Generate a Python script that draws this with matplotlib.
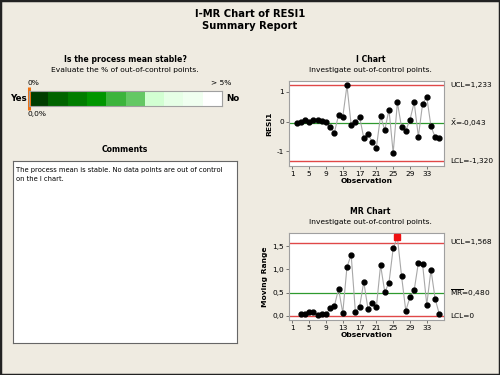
import numpy as np
import matplotlib.pyplot as plt
from matplotlib.patches import Rectangle

# data
obs_i = list(range(2, 37))
resi = [-0.03, 0.00, 0.05, -0.02, 0.05, 0.05, 0.03, 0.00, -0.17, -0.37,
        0.23, 0.16, 1.22, -0.11, 0.00, 0.17, -0.55, -0.41, -0.68, -0.87,
        0.20, -0.29, 0.41, -1.05, 0.65, -0.19, -0.30, 0.07, 0.65, -0.50,
        0.60, 0.83, -0.16, -0.52, -0.55]
obs_mr = list(range(3, 37))
mr = [0.03, 0.04, 0.08, 0.09, 0.01, 0.03, 0.03, 0.16, 0.21, 0.58,
      0.06, 1.05, 1.31, 0.09, 0.19, 0.73, 0.15, 0.28, 0.19, 1.09,
      0.51, 0.71, 1.45, 1.69, 0.85, 0.11, 0.40, 0.55, 1.14, 1.11,
      0.24, 0.99, 0.36, 0.03]
i_ucl, i_cl, i_lcl = 1.233, -0.043, -1.320
mr_ucl, mr_cl, mr_lcl = 1.568, 0.480, 0.0
xticks = [1, 5, 9, 13, 17, 21, 25, 29, 33]
pct_out = 0.0
seg_colors = ['#003d00', '#006400', '#007d00', '#009600', '#3cb43c',
              '#64c864', '#d2ffd2', '#e6ffe6', '#f0fff0', '#ffffff']

W, H = 500, 375
bg = '#efebe1'
red = '#e04848'
green = '#2e9a2e'
plt.rcParams['font.family'] = 'DejaVu Sans'


def fx(x):
    return x / W


def fy(y):
    return 1 - y / H


def rect(l, t, r, b):
    return [fx(l), fy(b), (r - l) / W, (b - t) / H]


fig = plt.figure(figsize=(5, 3.75), dpi=100, facecolor=bg)
fig.patches.append(Rectangle((0, 0), 1, 1, transform=fig.transFigure,
                             fill=False, edgecolor='#222222', linewidth=2.5))

fig.text(0.5, fy(14), 'I-MR Chart of RESI1', ha='center', va='center',
         fontsize=7.2, fontweight='bold')
fig.text(0.5, fy(26), 'Summary Report', ha='center', va='center',
         fontsize=7.2, fontweight='bold')

# stability gauge
fig.text(fx(125), fy(60), 'Is the process mean stable?', ha='center',
         va='center', fontsize=5.6, fontweight='bold')
fig.text(fx(125), fy(70), 'Evaluate the % of out-of-control points.',
         ha='center', va='center', fontsize=5.4)
gax = fig.add_axes(rect(29, 91, 222, 106))
gax.set_xlim(0, 5)
gax.set_ylim(0, 1)
seg_w = 5 / len(seg_colors)
gax.barh(0.5, [seg_w] * len(seg_colors), left=np.arange(len(seg_colors)) * seg_w,
         height=1, color=seg_colors, edgecolor='none')
for s in gax.spines.values():
    s.set_color('#a0a0a0')
gax.set_xticks([])
gax.set_yticks([])
gax.plot([pct_out, pct_out], [-0.25, 1.25], color='#f07010', lw=2.2,
         clip_on=False, solid_capstyle='butt')
fig.text(fx(27), fy(98.5), 'Yes', ha='right', va='center', fontsize=6.3,
         fontweight='bold')
fig.text(fx(226), fy(98.5), 'No', ha='left', va='center', fontsize=6.3,
         fontweight='bold')
fig.text(fx(28), fy(83), '0%', ha='left', va='center', fontsize=5.4)
fig.text(fx(231), fy(83), '> 5%', ha='right', va='center', fontsize=5.4)
fig.text(fx(28), fy(114), '0,0%', ha='left', va='center', fontsize=5.4)

# comments
fig.text(fx(125), fy(150), 'Comments', ha='center', va='center',
         fontsize=5.6, fontweight='bold')
cax = fig.add_axes(rect(13, 161, 237, 343))
cax.set_xticks([])
cax.set_yticks([])
for s in cax.spines.values():
    s.set_color('#666666')
cax.text(0.015, 0.965, 'The process mean is stable. No data points are out of control\non the I chart.',
         transform=cax.transAxes, ha='left', va='top', fontsize=4.9,
         linespacing=1.45)


def ctl_chart(box, x, y, ucl, cl, lcl, ylim, yticks, ylabels, ylabel, title,
              clabel, cl_y, lcl_y, ucl_y):
    ax = fig.add_axes(rect(*box))
    ax.axhline(ucl, color=red, lw=1)
    ax.axhline(lcl, color=red, lw=1)
    ax.axhline(cl, color=green, lw=0.9)
    ax.plot(x, y, color='#a8a8a8', lw=0.8, zorder=3)
    y = np.array(y)
    x = np.array(x)
    out = (y > ucl) | (y < lcl)
    ax.plot(x[~out], y[~out], 'o', color='black', ms=3.5, zorder=4)
    ax.plot(x[out], y[out], 's', color='#ee1111', ms=3.8, zorder=4)
    ax.set_xlim(0.2, 37.1)
    ax.set_ylim(*ylim)
    ax.set_xticks(xticks)
    ax.set_yticks(yticks)
    ax.set_yticklabels(ylabels)
    ax.tick_params(labelsize=5.3, length=2, width=0.5, pad=1.5,
                   color='#444444')
    for s in ax.spines.values():
        s.set_color('#a0a0a0')
        s.set_linewidth(0.8)
    ax.set_xlabel('Observation', fontsize=5.4, fontweight='bold', labelpad=1)
    ax.set_ylabel(ylabel, fontsize=5.4, fontweight='bold', labelpad=3)
    l, t, r, b = box
    fig.text(fx((l + r) / 2 + 4), fy(t - 21), title, ha='center',
             va='center', fontsize=5.6, fontweight='bold')
    fig.text(fx((l + r) / 2 + 4), fy(t - 11),
             'Investigate out-of-control points.', ha='center', va='center',
             fontsize=5.4)
    fig.text(fx(450), fy(ucl_y), 'UCL=' + f'{ucl:.3f}'.replace('.', ','),
             ha='left', va='center', fontsize=5.3)
    fig.text(fx(450), fy(cl_y), clabel + '=' + f'{cl:.3f}'.replace('.', ','),
             ha='left', va='center', fontsize=5.3)
    lab = 'LCL=0' if lcl == 0 else 'LCL=' + f'{lcl:.3f}'.replace('.', ',')
    fig.text(fx(450), fy(lcl_y), lab, ha='left', va='center', fontsize=5.3)
    return ax


ctl_chart((289, 81, 444, 166), obs_i, resi, i_ucl, i_cl, i_lcl,
          (-1.49, 1.37), [-1, 0, 1], ['-1', '0', '1'], 'RESI1', 'I Chart',
          r'$\bar{\mathrm{X}}$', 123, 161, 85)
ctl_chart((289, 233, 444, 320), obs_mr, mr, mr_ucl, mr_cl, mr_lcl,
          (-0.09, 1.78), [0, 0.5, 1.0, 1.5], ['0,0', '0,5', '1,0', '1,5'],
          'Moving Range', 'MR Chart', r'$\overline{\mathrm{MR}}$', 293, 316, 242)

fig.savefig('out.png', dpi=100, facecolor=bg)
